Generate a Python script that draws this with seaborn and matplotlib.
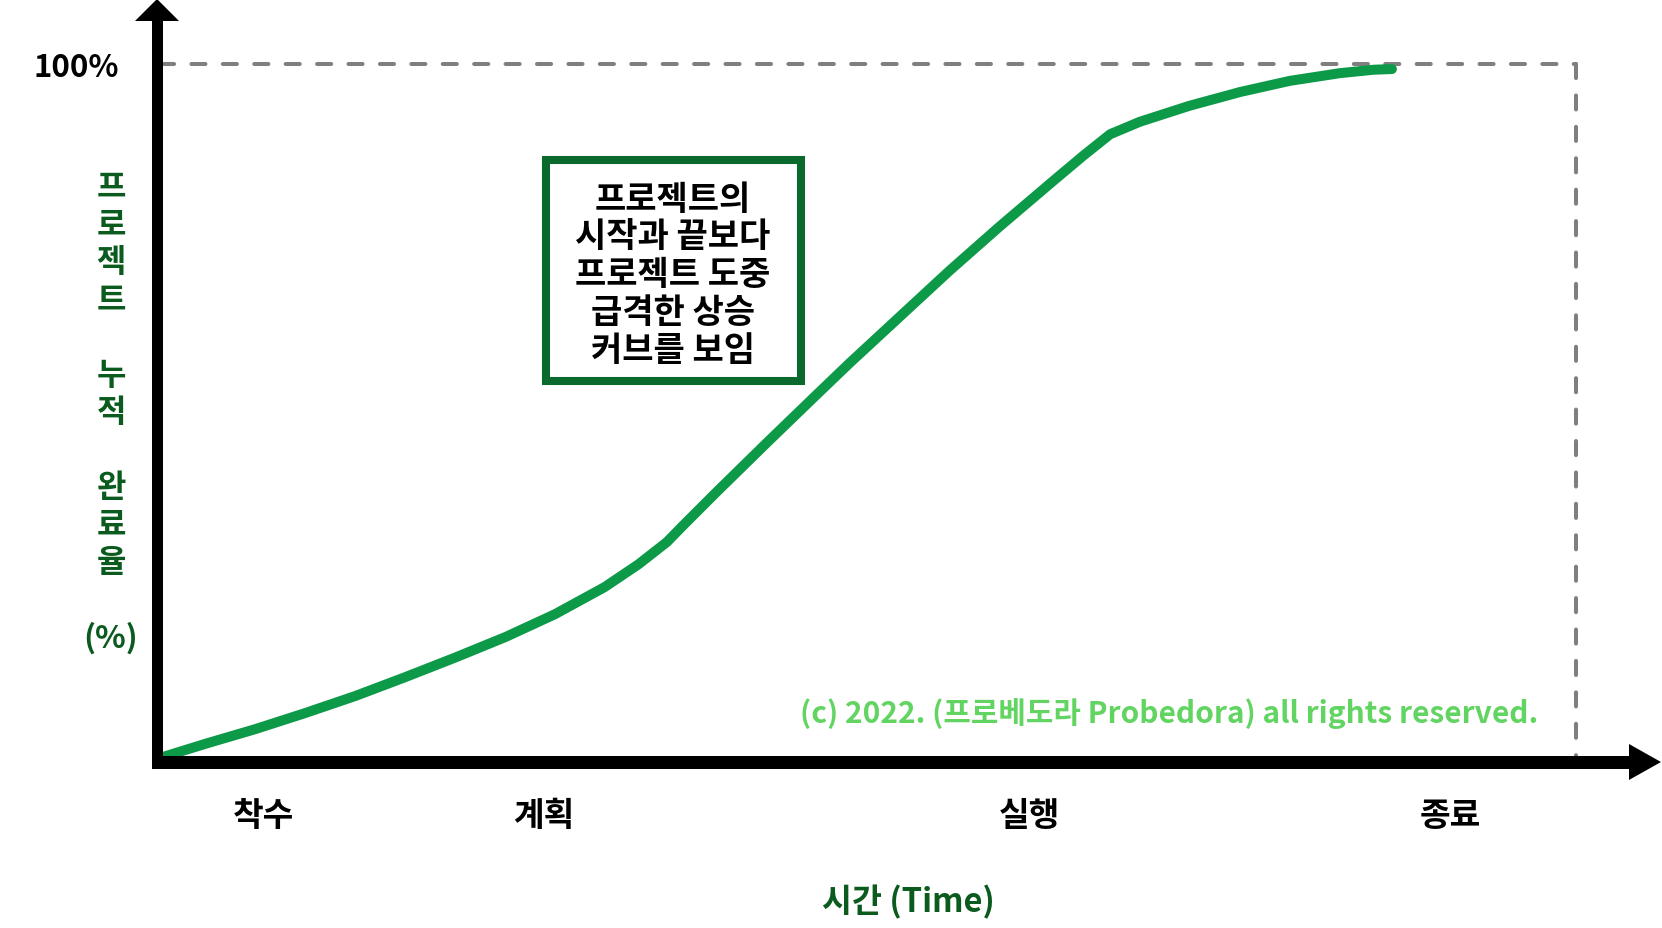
import numpy as np
import pandas as pd
import matplotlib
matplotlib.use("Agg")
import matplotlib.pyplot as plt
import seaborn as sns
from matplotlib.patches import Polygon, Rectangle

sns.set_theme(style="white")
plt.rcParams['font.family'] = ['Noto Sans CJK KR', 'DejaVu Sans']

# ---------------- data ----------------
time_pct = [0.2, 3.2, 6.7, 10.2, 13.8, 17.3, 20.8, 24.4, 27.9, 31.4,
            33.8, 35.8, 36.9, 39.3, 42.9, 46.4, 48.7, 52.3, 55.8, 59.3,
            63.1, 65.2, 67.1, 69.2, 72.7, 76.3, 79.8, 83.3, 85.7, 87.0]
completion_pct = [0.0, 1.9, 4.0, 6.3, 8.8, 11.5, 14.3, 17.3, 20.6, 24.5,
                  27.8, 31.0, 33.3, 38.2, 45.4, 52.3, 56.8, 63.6, 70.2, 76.5,
                  83.1, 86.7, 89.8, 91.6, 93.9, 95.9, 97.5, 98.6, 99.1, 99.2]
stage_labels = ["착수", "계획", "실행", "종료"]
stage_pos = [7.3, 27.1, 61.4, 91.1]
y_tick_label = "100%"
y_label_words = ["프로젝트", "누적", "완료율", "(%)"]
x_label = "시간 (Time)"
note_lines = ["프로젝트의", "시작과 끝보다", "프로젝트 도중", "급격한 상승", "커브를 보임"]
copyright_text = "(c) 2022. (프로베도라 Probedora) all rights reserved."

df = pd.DataFrame({"time": time_pct, "completion": completion_pct})

# ---------------- layout ----------------
W, H = 1662, 929
X0_PX, X100_PX = 160, 1576
Y0_PX, Y100_PX = 758, 64.5
sx = (X100_PX - X0_PX) / 100.0
sy = (Y0_PX - Y100_PX) / 100.0

CURVE = "#0d9a48"
DARK_GREEN = "#0b5a1e"
BOX_GREEN = "#0a6a2e"
LIGHT_GREEN = "#62d462"
GRAY = "#7f7f7f"

fig = plt.figure(figsize=(W / 100, H / 100), dpi=100)
fig.patch.set_facecolor("white")

ax = fig.add_axes([0, 0, 1, 1])
ax.set_xlim(-X0_PX / sx, (W - X0_PX) / sx)
ax.set_ylim(-(H - Y0_PX) / sy, Y0_PX / sy)
ax.axis("off")

# dashed 100% guide lines
ax.plot([0, 100], [100, 100], color=GRAY, lw=2.9, ls=(0, (3.5, 4.3)),
        dash_capstyle="round", zorder=1)
ax.plot([100, 100], [100, 0], color=GRAY, lw=2.9, ls=(0, (3.5, 4.3)),
        dash_capstyle="round", zorder=1)

sns.lineplot(data=df, x="time", y="completion", ax=ax, color=CURVE,
             lw=7.2, solid_capstyle="round", solid_joinstyle="round",
             sort=False, zorder=3, legend=False)
ax.set_xlabel("")
ax.set_ylabel("")

# stage labels along the time axis
for lbl, pos in zip(stage_labels, stage_pos):
    ax.text(pos, -(817 - Y0_PX) / sy, lbl, ha="center", va="center",
            fontsize=24, fontweight="bold", color="black")

# ---------------- overlay in pixel space ----------------
pax = fig.add_axes([0, 0, 1, 1], zorder=5)
pax.set_xlim(0, W)
pax.set_ylim(H, 0)
pax.axis("off")
pax.patch.set_alpha(0)

# y axis with arrow
pax.add_patch(Rectangle((152, 21), 11, 770 - 21, color="black", lw=0))
pax.add_patch(Polygon([(135, 22), (179, 22), (157, 0)], closed=True, color="black", lw=0))
# x axis with arrow
pax.add_patch(Rectangle((152, 757), 1630 - 152, 13, color="black", lw=0))
pax.add_patch(Polygon([(1629, 745), (1629, 781), (1661, 763)], closed=True, color="black", lw=0))

# 100% label
pax.text(119, 68, y_tick_label, ha="right", va="center", fontsize=22.5,
         fontweight="bold", color="black")

# stacked vertical y label
y = 188.0
step = 37.5
for i, word in enumerate(y_label_words):
    if word.startswith("("):
        pax.text(111, y, word, ha="center", va="center", fontsize=23,
                 fontweight="bold", color=DARK_GREEN)
        y += step
    else:
        for ch in word:
            pax.text(111, y, ch, ha="center", va="center", fontsize=23,
                     fontweight="bold", color=DARK_GREEN)
            y += step
    y += step

# x label
pax.text(908, 902, x_label, ha="center", va="center", fontsize=23.5,
         fontweight="bold", color=DARK_GREEN)

# annotation box
pax.add_patch(Rectangle((546, 161), 801 - 546, 382 - 161, fill=False,
                        edgecolor=BOX_GREEN, lw=5.8, joinstyle="miter"))
for i, line in enumerate(note_lines):
    pax.text(673, 199 + i * 37.8, line, ha="center", va="center", fontsize=24.5,
             fontweight="bold", color="black")

# copyright
pax.text(1538, 714, copyright_text, ha="right", va="center", fontsize=21.5,
         fontweight="bold", color=LIGHT_GREEN)

fig.savefig("out.png", dpi=100, facecolor="white")
